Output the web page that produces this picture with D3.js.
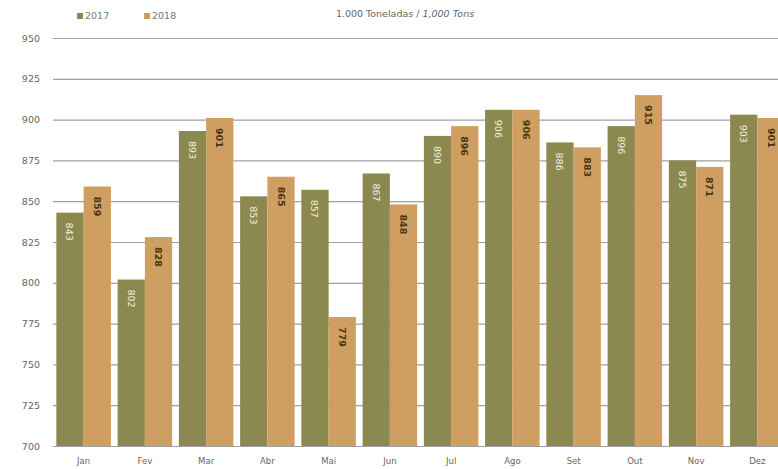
<!DOCTYPE html>
<html>
<head>
<meta charset="utf-8">
<script src="https://cdn.jsdelivr.net/npm/d3@7"></script>
<style>
  body { margin: 0; background: #fff; }
  text { font-family: "DejaVu Sans", Verdana, sans-serif; }
</style>
</head>
<body>
<script>
// chart values
let months = ['Jan', 'Fev', 'Mar', 'Abr', 'Mai', 'Jun', 'Jul', 'Ago', 'Set', 'Out', 'Nov', 'Dez'];
let seriesNames = ['2017', '2018'];
let values2017 = [843, 802, 893, 853, 857, 867, 890, 906, 886, 896, 875, 903];
let values2018 = [859, 828, 901, 865, 779, 848, 896, 906, 883, 915, 871, 901];
let yTicks = [700, 725, 750, 775, 800, 825, 850, 875, 900, 925, 950];

let width = 778,
    height = 469;

let colors = { '2017': '#8b8850', '2018': '#cf9f62' };
let labelColors = { '2017': '#f4f1e0', '2018': '#4a3414' };

let svg = d3.select('body')
            .append('svg')
            .attr('width', width)
            .attr('height', height)
            .style('display', 'block');

let yScale = d3.scaleLinear()
              .domain([700, 950])
              .range([446, 38]);

let xScale = d3.scaleBand()
            .domain(months)
            .range([53, 788])
            .paddingInner(0.11)
            .paddingOuter(0.055);

let xSub = d3.scaleBand()
            .domain(seriesNames)
            .range([0, xScale.bandwidth()]);

// y labels
let yAxis = svg.append('g')
            .attr('transform', 'translate(53, 0)')
            .call(d3.axisLeft(yScale).tickValues(yTicks).tickSize(0).tickPadding(13).tickFormat(d3.format('d')));
yAxis.select('.domain').remove();
yAxis.selectAll('text')
     .attr('fill', '#666')
     .style('font-size', '9.5px');

// gridlines
svg.append('g')
   .selectAll('line')
   .data(yTicks)
   .enter()
   .append('line')
   .attr('x1', 53)
   .attr('x2', width)
   .attr('y1', d => yScale(d) + 0.5)
   .attr('y2', d => yScale(d) + 0.5)
   .attr('stroke', '#a0a0a0')
   .attr('stroke-width', 1.2);

// rows: one per month per series
let rows = [];
months.forEach((m, i) => {
  rows.push({ month: m, series: '2017', value: values2017[i] });
  rows.push({ month: m, series: '2018', value: values2018[i] });
});

svg.selectAll('rect.bar')
   .data(rows)
   .enter()
   .append('rect')
   .attr('class', 'bar')
   .attr('x', d => xScale(d.month) + xSub(d.series))
   .attr('y', d => yScale(d.value))
   .attr('width', xSub.bandwidth())
   .attr('height', d => yScale(700) - yScale(d.value))
   .attr('fill', d => colors[d.series]);

// value labels, rotated inside the bar tops
svg.selectAll('text.val')
   .data(rows)
   .enter()
   .append('text')
   .attr('class', 'val')
   .attr('transform', d => {
     let cx = xScale(d.month) + xSub(d.series) + xSub.bandwidth() / 2;
     let cy = yScale(d.value) + 10;
     return `translate(${cx - 3.5}, ${cy}) rotate(90)`;
   })
   .text(d => d.value)
   .attr('fill', d => labelColors[d.series])
   .style('font-size', '9.5px')
   .style('font-weight', d => d.series === '2018' ? 'bold' : 'normal');

// month labels
let xAxis = svg.append('g')
            .attr('transform', 'translate(0, 446)')
            .call(d3.axisBottom(xScale).tickSize(0).tickPadding(12));
xAxis.select('.domain').remove();
xAxis.selectAll('text')
     .attr('fill', '#666')
     .style('font-size', '8.5px');

// subtitle
let sub = svg.append('text')
        .attr('x', 405)
        .attr('y', 17)
        .attr('fill', '#666')
        .style('font-size', '9.5px')
        .style('text-anchor', 'middle');
sub.append('tspan').text('1.000 Toneladas / ');
sub.append('tspan').style('font-style', 'italic').text('1,000 Tons');

// legend
let legend = svg.append('g')
        .selectAll('g')
        .data(seriesNames)
        .enter()
        .append('g')
        .attr('transform', (d, i) => `translate(${77 + i * 67}, 14)`);
legend.append('rect')
      .attr('width', 6)
      .attr('height', 6)
      .attr('y', -1)
      .attr('fill', d => colors[d]);
legend.append('text')
      .attr('x', 8)
      .attr('y', 5)
      .attr('fill', '#777')
      .style('font-size', '9.5px')
      .text(d => d);
</script>
</body>
</html>
